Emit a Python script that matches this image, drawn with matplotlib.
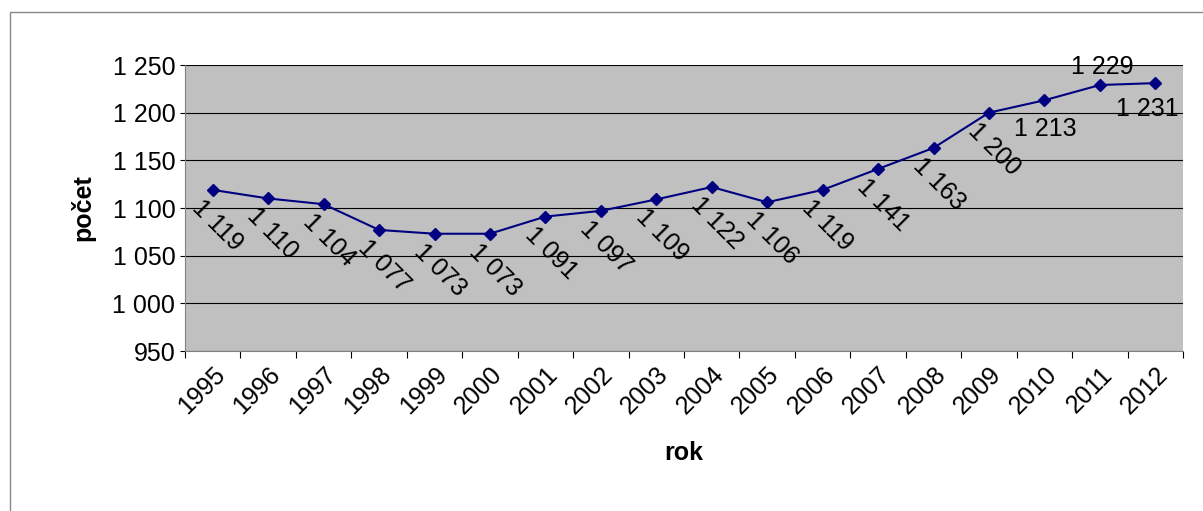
import matplotlib.pyplot as plt
from matplotlib.patches import Rectangle

plt.rcParams["font.family"] = ["Liberation Sans", "DejaVu Sans"]

years = [str(y) for y in range(1995, 2013)]
counts = [1119, 1110, 1104, 1077, 1073, 1073, 1091, 1097, 1109, 1122,
          1106, 1119, 1141, 1163, 1200, 1213, 1229, 1231]

def fmt(v):
    return f"{v:,}".replace(",", " ")

fs = 18
fig = plt.figure(figsize=(12.03, 5.11), dpi=100)
fig.patches.append(Rectangle((10/1203, -0.1), 1.2, 1 - 12/511 + 0.1, transform=fig.transFigure,
                             fill=False, edgecolor="#888888", linewidth=1))
ax = fig.add_axes([185/1203, 1 - 351/511, 998/1203, 286/511])
ax.set_facecolor("#C0C0C0")
x = list(range(len(years)))
ax.plot(x, counts, color="#000080", marker="D", markersize=6, linewidth=1.5, zorder=3)
ax.set_xlim(-0.5, len(years) - 0.5)
ax.set_ylim(950, 1250)
ax.set_yticks(range(950, 1251, 50))
ax.set_yticklabels([fmt(v) for v in range(950, 1251, 50)], fontsize=fs)
ax.yaxis.grid(True, color="black", linewidth=0.8)
ax.set_axisbelow(True)
ax.set_xticks([i - 0.5 for i in range(len(years) + 1)], minor=False)
ax.set_xticklabels([])
ax.set_xticks(x, minor=True)
ax.set_xticklabels(years, minor=True, rotation=45, ha="right", rotation_mode="anchor", fontsize=fs)
ax.tick_params(axis="x", which="minor", length=0, pad=8)
ax.tick_params(axis="x", which="major", length=5)
for s in ["top", "right"]:
    ax.spines[s].set_visible(False)
for s in ["left", "bottom"]:
    ax.spines[s].set_color("#808080")
ax.set_ylabel("počet", fontsize=fs, fontweight="bold", labelpad=12)
ax.set_xlabel("rok", fontsize=fs, fontweight="bold", labelpad=16)

for i, v in enumerate(counts):
    if i == 16:
        ax.annotate(fmt(v), (i, v), xytext=(2, 4), textcoords="offset points",
                    ha="center", va="bottom", fontsize=fs)
    elif i == 17:
        ax.annotate(fmt(v), (i, v), xytext=(-28, -10), textcoords="offset points",
                    ha="left", va="top", fontsize=fs)
    elif i == 15:
        ax.annotate(fmt(v), (i, v), xytext=(-22, -12), textcoords="offset points",
                    ha="left", va="top", fontsize=fs)
    else:
        ax.annotate(fmt(v), (i, v), xytext=(-6, -4), textcoords="offset points",
                    ha="left", va="top", rotation=-45, rotation_mode="anchor", fontsize=fs)

fig.savefig("out.png", dpi=100)
